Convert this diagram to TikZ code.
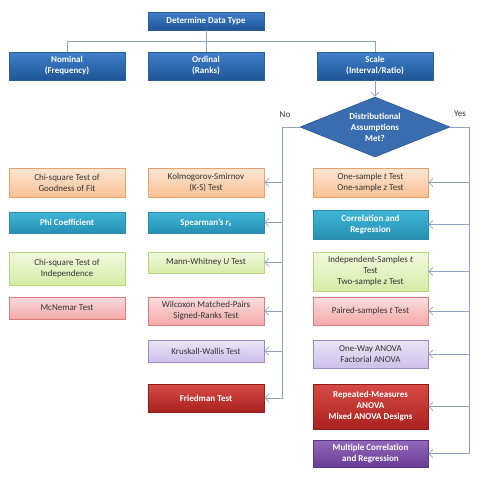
\documentclass[tikz,border=0pt]{standalone}
\usepackage{fontspec}
\setmainfont{Carlito}
\usetikzlibrary{arrows.meta,calc,positioning,shapes.geometric,shadows}

\definecolor{hdrtop}{HTML}{3F7FCB}
\definecolor{hdrbot}{HTML}{1F5596}
\definecolor{hdrln}{HTML}{2B5F9E}
\definecolor{orgtop}{HTML}{FDE6D3}
\definecolor{orgbot}{HTML}{F9C295}
\definecolor{orgln}{HTML}{E8A36C}
\definecolor{teltop}{HTML}{40B6D6}
\definecolor{telbot}{HTML}{2590B3}
\definecolor{telln}{HTML}{2A8AA8}
\definecolor{grntop}{HTML}{F1F9DE}
\definecolor{grnbot}{HTML}{D6ECA6}
\definecolor{grnln}{HTML}{B8D67D}
\definecolor{pnktop}{HTML}{FBDDDD}
\definecolor{pnkbot}{HTML}{F3A9A9}
\definecolor{pnkln}{HTML}{D97C7C}
\definecolor{lavtop}{HTML}{ECE5F7}
\definecolor{lavbot}{HTML}{CDBFEA}
\definecolor{lavln}{HTML}{9C88C8}
\definecolor{redtop}{HTML}{D84A45}
\definecolor{redbot}{HTML}{A8221F}
\definecolor{redln}{HTML}{8E1E1C}
\definecolor{purtop}{HTML}{9167BB}
\definecolor{purbot}{HTML}{693D94}
\definecolor{purln}{HTML}{5A3480}
\definecolor{diafill}{HTML}{3A6DB0}
\definecolor{dialn}{HTML}{2A5590}
\definecolor{lncol}{HTML}{8CA3C1}
\definecolor{txt}{HTML}{333333}

\begin{document}
\begin{tikzpicture}[x=1pt, y=-1pt,
  font=\fontsize{9}{11}\selectfont,
  box/.style={draw, line width=0.6pt, inner sep=1pt, align=center,
              minimum width=116pt,
              drop shadow={shadow xshift=1pt, shadow yshift=-1.2pt, opacity=0.35}},
  hdr/.style={box, top color=hdrtop, bottom color=hdrbot, draw=hdrln,
              text=white, font=\fontsize{9}{11}\selectfont\bfseries},
  orng/.style={box, top color=orgtop, bottom color=orgbot, draw=orgln, text=txt},
  teal/.style={box, top color=teltop, bottom color=telbot, draw=telln,
               text=white, font=\fontsize{9}{11}\selectfont\bfseries},
  grn/.style={box, top color=grntop, bottom color=grnbot, draw=grnln, text=txt},
  pnk/.style={box, top color=pnktop, bottom color=pnkbot, draw=pnkln, text=txt},
  lav/.style={box, top color=lavtop, bottom color=lavbot, draw=lavln, text=txt},
  rd/.style={box, top color=redtop, bottom color=redbot, draw=redln,
             text=white, font=\fontsize{9}{11}\selectfont\bfseries},
  purp/.style={box, top color=purtop, bottom color=purbot, draw=purln,
               text=white, font=\fontsize{9}{11}\selectfont\bfseries},
  dia/.style={diamond, aspect=2.5, inner sep=0pt, minimum width=150pt,
              minimum height=60pt, fill=diafill, draw=dialn, line width=0.6pt,
              align=center, text=white, font=\fontsize{9}{11}\selectfont\bfseries},
  lbl/.style={text=txt},
  line/.style={draw=lncol, line width=0.8pt},
  arr/.style={line, -{Straight Barb[length=4pt, width=8pt]}}]
\useasboundingbox (0,0) rectangle (488,480);

% data type
\node[hdr, minimum height=18pt] (type) at (206,21) {Determine Data Type};
\node[hdr, minimum height=28pt] (nominal) at (67,66) {Nominal\\(Frequency)};
\node[hdr, minimum height=28pt] (ordinal) at (206,66) {Ordinal\\(Ranks)};
\node[hdr, minimum height=28pt] (scale) at (375,66) {Scale\\(Interval/Ratio)};
\node[dia] (dist) at (375,127) {Distributional\\Assumptions\\Met?};
\node[lbl] (no) at (285,115) {No};
\node[lbl] (yes) at (460,114) {Yes};

% nominal column
\node[orng, minimum height=29pt] (gof) at (67,182.5) {Chi-square Test of\\Goodness of Fit};
\node[teal, minimum height=21pt] (phi) at (67,222.5) {Phi Coefficient};
\node[grn, minimum height=33pt] (indep) at (67,268.5) {Chi-square Test of\\Independence};
\node[pnk, minimum height=22pt] (mcn) at (67,308) {McNemar Test};

% ordinal column
\node[orng, minimum height=29pt] (ks) at (206,182.5) {Kolmogorov-Smirnov\\(K-S) Test};
\node[teal, minimum height=21pt] (spear) at (206,222.5) {Spearman's \textit{r}\textsubscript{\textit{s}}};
\node[grn, minimum height=21pt] (mw) at (206,262.5) {Mann-Whitney \textit{U} Test};
\node[pnk, minimum height=28pt] (wilc) at (206,311) {Wilcoxon Matched-Pairs\\Signed-Ranks Test};
\node[lav, minimum height=22pt] (kw) at (206,351) {Kruskall-Wallis Test};
\node[rd, minimum height=28pt] (fried) at (206,398) {Friedman Test};

% scale column
\node[orng, minimum width=115pt, minimum height=29pt] (onez) at (370.5,182.5)
  {One-sample \textit{t} Test\\One-sample \textit{z} Test};
\node[teal, minimum width=115pt, minimum height=29pt] (corr) at (370.5,224.5)
  {Correlation and\\Regression};
\node[grn, minimum width=115pt, minimum height=39pt] (indt) at (370.5,271.5)
  {Independent-Samples \textit{t}\\Test\\Two-sample \textit{z} Test};
\node[pnk, minimum width=115pt, minimum height=28pt] (pair) at (370.5,311)
  {Paired-samples \textit{t} Test};
\node[lav, minimum width=115pt, minimum height=28pt] (anova) at (370.5,354)
  {One-Way ANOVA\\Factorial ANOVA};
\node[rd, minimum width=115pt, minimum height=45pt] (rm) at (370.5,406.5)
  {Repeated-Measures\\ANOVA\\Mixed ANOVA Designs};
\node[purp, minimum width=115pt, minimum height=27pt] (mult) at (370.5,453.5)
  {Multiple Correlation\\and Regression};

% connectors
\coordinate (bus) at (206,41);
\coordinate (nobend) at (282,127);
\coordinate (yesbend) at (469,127);
\draw[line] (type) -- (ordinal);
\draw[line] (bus) -| (nominal.north);
\draw[line] (bus) -| (scale.north);
\draw[arr] (scale) -- (dist);
\draw[arr] (dist.west) -- (nobend) |- (fried.east);
\draw[arr] (dist.east) -- (yesbend) |- (mult.east);
\foreach \b in {ks,spear,mw,wilc,kw}
  \draw[arr] (nobend |- \b.east) -- (\b.east);
\foreach \b in {onez,corr,indt,pair,anova,rm}
  \draw[arr] (yesbend |- \b.east) -- (\b.east);
\end{tikzpicture}
\end{document}
